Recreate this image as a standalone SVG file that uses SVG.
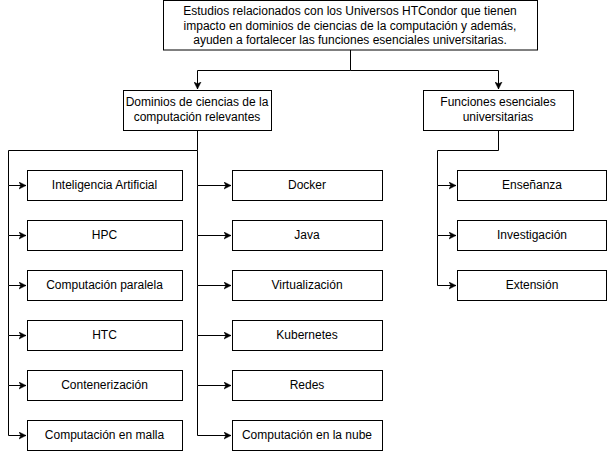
<svg xmlns="http://www.w3.org/2000/svg" width="608" height="451" viewBox="0 0 608 451">
<style>
.box{fill:#fff;stroke:#000;stroke-width:1}
.t{font-family:"Liberation Sans",Arial,sans-serif;font-size:12px;fill:#000;text-anchor:middle}
.c{fill:none;stroke:#000;stroke-width:1}
</style>
<defs>
<marker id="ar" markerWidth="8" markerHeight="8" refX="7" refY="4" orient="auto" markerUnits="userSpaceOnUse">
<path d="M0,0.5 L7,4 L0,7.5 L1.8,4 Z" fill="#000" stroke="#000" stroke-width="0.5"/>
</marker>
</defs>
<rect width="608" height="451" fill="#fff"/>
<g id="connectors">
<path class="c" d="M350.5,50 V70.5 H197.5 V89" marker-end="url(#ar)"/>
<path class="c" d="M350.5,70.5 H498.5 V89" marker-end="url(#ar)"/>
<path class="c" d="M197.5,130 V150.5 H8.5 V185.5 H26" marker-end="url(#ar)"/>
<path class="c" d="M8.5,185.5 V235.5 H26" marker-end="url(#ar)"/>
<path class="c" d="M8.5,235.5 V285.5 H26" marker-end="url(#ar)"/>
<path class="c" d="M8.5,285.5 V335.5 H26" marker-end="url(#ar)"/>
<path class="c" d="M8.5,335.5 V385.5 H26" marker-end="url(#ar)"/>
<path class="c" d="M8.5,385.5 V435.5 H26" marker-end="url(#ar)"/>
<path class="c" d="M197.5,150.5 V185.5 H231" marker-end="url(#ar)"/>
<path class="c" d="M197.5,185.5 V235.5 H231" marker-end="url(#ar)"/>
<path class="c" d="M197.5,235.5 V285.5 H231" marker-end="url(#ar)"/>
<path class="c" d="M197.5,285.5 V335.5 H231" marker-end="url(#ar)"/>
<path class="c" d="M197.5,335.5 V385.5 H231" marker-end="url(#ar)"/>
<path class="c" d="M197.5,385.5 V435.5 H231" marker-end="url(#ar)"/>
<path class="c" d="M498.5,130 V150.5 H437.5 V185.5 H456" marker-end="url(#ar)"/>
<path class="c" d="M437.5,185.5 V235.5 H456" marker-end="url(#ar)"/>
<path class="c" d="M437.5,235.5 V285.5 H456" marker-end="url(#ar)"/>
</g>
<g id="root"><rect class="box" x="163.5" y="0.5" width="374" height="49.5"/>
<text class="t" x="350" y="15">Estudios relacionados con los Universos HTCondor que tienen</text>
<text class="t" x="350" y="29.5">impacto en dominios de ciencias de la computación y además,</text>
<text class="t" x="350" y="44">ayuden a fortalecer las funciones esenciales universitarias.</text></g>
<g id="dominios"><rect class="box" x="123.5" y="90.5" width="148" height="40"/>
<text class="t" x="197" y="106">Dominios de ciencias de la</text>
<text class="t" x="197" y="120.5">computación relevantes</text></g>
<g id="funciones"><rect class="box" x="423.5" y="90.5" width="150" height="40"/>
<text class="t" x="498" y="106">Funciones esenciales</text>
<text class="t" x="498" y="120.5">universitarias</text></g>
<g id="ia"><rect class="box" x="27.5" y="170.5" width="155" height="30"/><text class="t" x="104.5" y="189">Inteligencia Artificial</text></g>
<g id="hpc"><rect class="box" x="27.5" y="220.5" width="155" height="30"/><text class="t" x="104.5" y="239">HPC</text></g>
<g id="paralela"><rect class="box" x="27.5" y="270.5" width="155" height="30"/><text class="t" x="104.5" y="289">Computación paralela</text></g>
<g id="htc"><rect class="box" x="27.5" y="320.5" width="155" height="30"/><text class="t" x="104.5" y="339">HTC</text></g>
<g id="conten"><rect class="box" x="27.5" y="370.5" width="155" height="30"/><text class="t" x="104.5" y="389">Contenerización</text></g>
<g id="malla"><rect class="box" x="27.5" y="420.5" width="155" height="30"/><text class="t" x="104.5" y="439">Computación en malla</text></g>
<g id="docker"><rect class="box" x="232.5" y="170.5" width="150" height="30"/><text class="t" x="307" y="189">Docker</text></g>
<g id="java"><rect class="box" x="232.5" y="220.5" width="150" height="30"/><text class="t" x="307" y="239">Java</text></g>
<g id="virt"><rect class="box" x="232.5" y="270.5" width="150" height="30"/><text class="t" x="307" y="289">Virtualización</text></g>
<g id="kube"><rect class="box" x="232.5" y="320.5" width="150" height="30"/><text class="t" x="307" y="339">Kubernetes</text></g>
<g id="redes"><rect class="box" x="232.5" y="370.5" width="150" height="30"/><text class="t" x="307" y="389">Redes</text></g>
<g id="nube"><rect class="box" x="232.5" y="420.5" width="150" height="30"/><text class="t" x="307" y="439">Computación en la nube</text></g>
<g id="ensenanza"><rect class="box" x="457.5" y="170.5" width="149" height="30"/><text class="t" x="532" y="189">Enseñanza</text></g>
<g id="investigacion"><rect class="box" x="457.5" y="220.5" width="149" height="30"/><text class="t" x="532" y="239">Investigación</text></g>
<g id="extension"><rect class="box" x="457.5" y="270.5" width="149" height="30"/><text class="t" x="532" y="289">Extensión</text></g>
</svg>
